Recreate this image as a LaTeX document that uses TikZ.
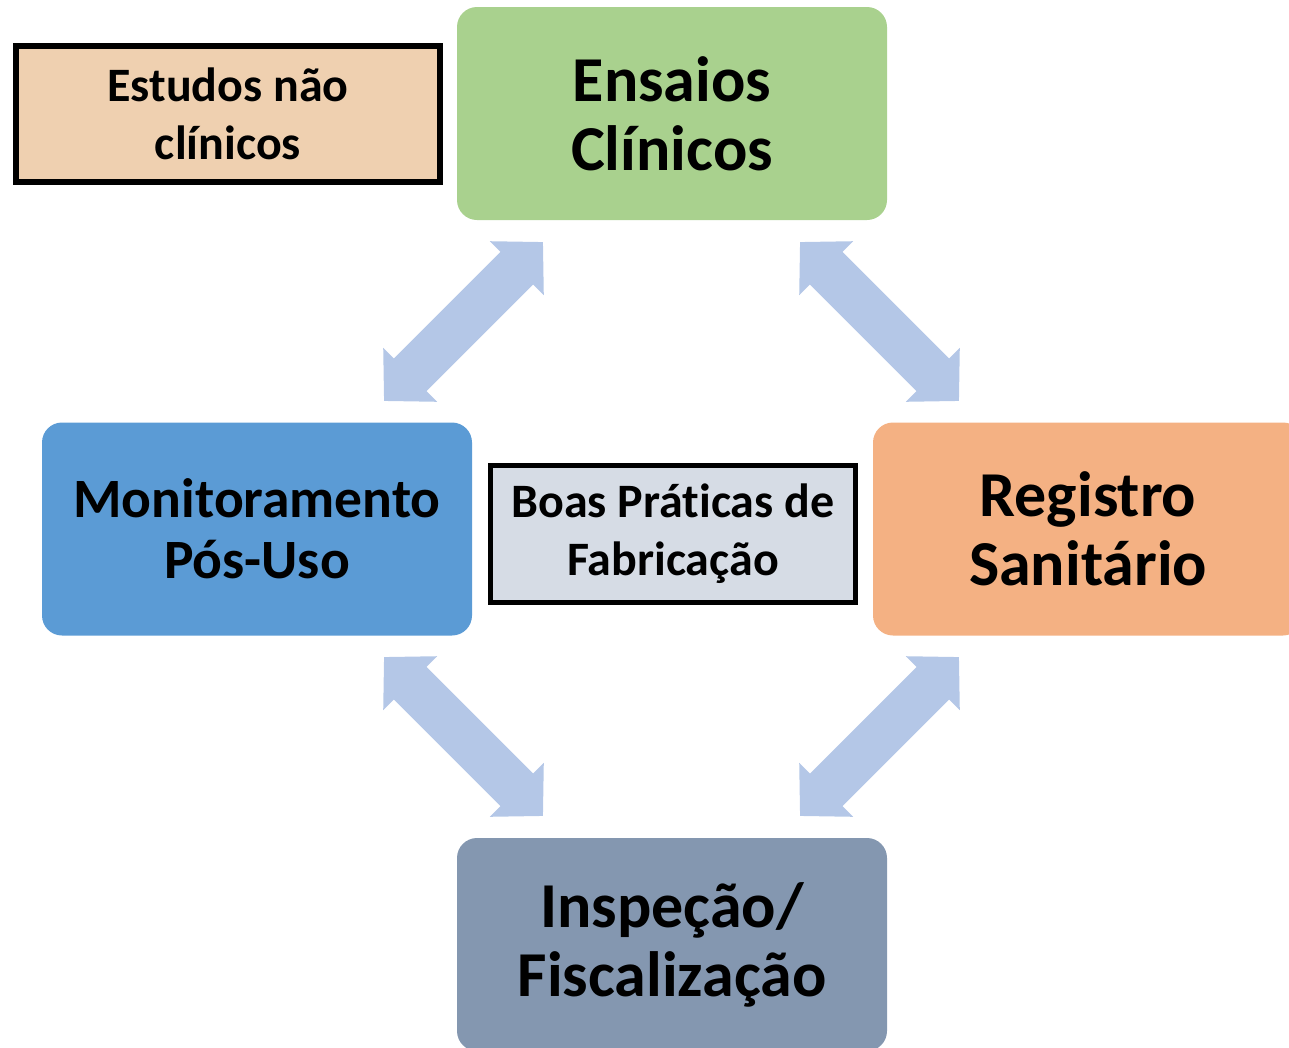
\documentclass[tikz,border=0pt]{standalone}
\usepackage{fontspec}
\setmainfont[Ligatures=NoCommon]{Carlito}
\usetikzlibrary{arrows.meta}
\definecolor{ensgreen}{HTML}{A9D18E}
\definecolor{estpeach}{HTML}{EFD0B0}
\definecolor{monblue}{HTML}{5B9BD5}
\definecolor{regorange}{HTML}{F4B183}
\definecolor{inspgray}{HTML}{8497B0}
\definecolor{boasgray}{HTML}{D6DCE5}
\definecolor{arrowblue}{HTML}{B4C7E7}
\begin{document}
\begin{tikzpicture}[x=1pt,y=-1pt,
  bigbox/.style={rectangle, rounded corners=20pt, minimum width=430pt, minimum height=213pt,
    align=center, font=\bfseries\fontsize{64}{69}\selectfont},
  framebox/.style={rectangle, draw=black, align=center, font=\bfseries\fontsize{48}{58}\selectfont},
  bigarrow/.style={arrowblue, line width=46pt, {Triangle[length=37pt,width=74pt]}-{Triangle[length=37pt,width=74pt]}}]
  \useasboundingbox (0,0) rectangle (1289,1047);
  \begin{scope}
    \clip (0,0) rectangle (1289,1047);
    \node[bigbox, fill=ensgreen] (ens) at (672,113.5) {Ensaios\\Clínicos};
    \node[bigbox, fill=monblue, font=\bfseries\fontsize{55.5}{61}\selectfont] (mon) at (257,529) {Monitoramento\\Pós-Uso};
    \node[bigbox, fill=regorange] (reg) at (1088,529) {Registro\\Sanitário};
    \node[bigbox, fill=inspgray] (insp) at (672,944.5) {Inspeção/\\Fiscalização};
  \end{scope}
  \node[framebox, fill=estpeach, line width=6pt, minimum width=424pt, minimum height=136pt] (est) at (228,114) {Estudos não\\clínicos};
  \node[framebox, fill=boasgray, line width=5pt, minimum width=365pt, minimum height=137pt] (boas) at (673,534) {Boas Práticas de\\Fabricação};
  % setas duplas
  \coordinate (tl1) at (384,401);
  \coordinate (tl2) at (543,242);
  \coordinate (tr1) at (800,242);
  \coordinate (tr2) at (959,401);
  \coordinate (bl1) at (384,657);
  \coordinate (bl2) at (543,816);
  \coordinate (br1) at (800,816);
  \coordinate (br2) at (959,657);
  \draw[bigarrow] (tl1) -- (tl2);
  \draw[bigarrow] (tr1) -- (tr2);
  \draw[bigarrow] (bl1) -- (bl2);
  \draw[bigarrow] (br1) -- (br2);
\end{tikzpicture}
\end{document}
